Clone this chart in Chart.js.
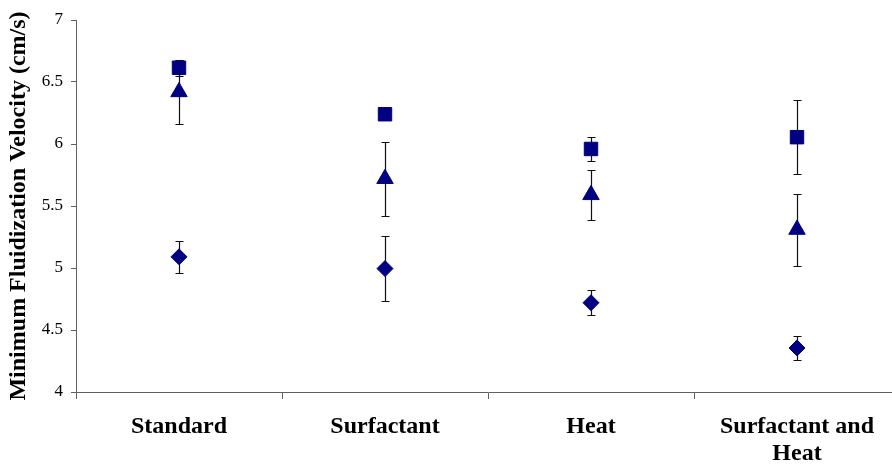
<!DOCTYPE html>
<html>
<head>
<meta charset="utf-8">
<script src="https://cdn.jsdelivr.net/npm/chart.js@4"></script>
<style>
  html, body { margin: 0; padding: 0; background: #fff; overflow: hidden; }
  #wrap { width: 900px; height: 465px; }
</style>
</head>
<body>
<div id="wrap"><canvas id="chart" width="900" height="465"></canvas></div>
<script>
// ── DATA ───────────────────────────────────────────────────────
const CATEGORIES = ['Standard', 'Surfactant', 'Heat', ['Surfactant and', 'Heat']];

const SQUARE_VALS   = [6.615, 6.24, 5.96, 6.055];
const SQUARE_ERR    = [0.065, 0.02, 0.10, 0.30];
const TRIANGLE_VALS = [6.42, 5.72, 5.59, 5.31];
const TRIANGLE_ERR  = [0.26, 0.30, 0.20, 0.29];
const DIAMOND_VALS  = [5.09, 4.995, 4.72, 4.355];
const DIAMOND_ERR   = [0.13, 0.26, 0.10, 0.095];

const Y_MIN = 4, Y_MAX = 7, Y_STEP = 0.5;
const Y_TITLE = 'Minimum Fluidization Velocity (cm/s)';

// ── STYLE ──────────────────────────────────────────────────────
const NAVY  = '#000080';
const AXIS  = '#606060';
const SERIF = "'Liberation Serif', 'Times New Roman', serif";

// error bars drawn behind the markers, through the y scale
const errorBars = {
  id: 'errorBars',
  beforeDatasetsDraw(chart) {
    const { ctx, scales: { y } } = chart;
    ctx.save();
    ctx.strokeStyle = '#101010';
    ctx.lineWidth = 1.2;
    chart.data.datasets.forEach((ds, di) => {
      const meta = chart.getDatasetMeta(di);
      meta.data.forEach((pt, i) => {
        const e = ds.errors[i];
        if (!e) return;
        const px = Math.round(pt.x) + 0.5;
        const top = Math.round(y.getPixelForValue(ds.data[i] + e)) + 0.5;
        const bot = Math.round(y.getPixelForValue(ds.data[i] - e)) + 0.5;
        ctx.beginPath();
        ctx.moveTo(px, top); ctx.lineTo(px, bot);
        ctx.moveTo(px - 4, top); ctx.lineTo(px + 4, top);
        ctx.moveTo(px - 4, bot); ctx.lineTo(px + 4, bot);
        ctx.stroke();
      });
    });
    ctx.restore();
  }
};

function series(label, data, errors, style, radius) {
  return {
    label, data, errors,
    showLine: false,
    pointStyle: style,
    pointRadius: radius,
    pointHoverRadius: radius,
    pointBackgroundColor: NAVY,
    pointBorderColor: NAVY,
    pointBorderWidth: 1,
  };
}

new Chart(document.getElementById('chart').getContext('2d'), {
  type: 'line',
  data: {
    labels: CATEGORIES,
    datasets: [
      series('Series 1', SQUARE_VALS, SQUARE_ERR, 'rect', 9.5),
      series('Series 2', TRIANGLE_VALS, TRIANGLE_ERR, 'triangle', 9.5),
      series('Series 3', DIAMOND_VALS, DIAMOND_ERR, 'rectRot', 8),
    ],
  },
  options: {
    responsive: false,
    animation: false,
    layout: { autoPadding: false, padding: { top: 20, right: 0, left: 0, bottom: 0 } },
    plugins: { legend: { display: false }, tooltip: { enabled: false } },
    scales: {
      x: {
        offset: true,
        afterFit: s => { s.height = 73; s.paddingLeft = 0; s.paddingRight = 0; },
        grid: { offset: true, drawOnChartArea: false, tickLength: 7, color: AXIS },
        border: { color: AXIS, width: 1 },
        ticks: {
          padding: 15,
          color: '#000',
          maxRotation: 0,
          autoSkip: false,
          font: { family: SERIF, size: 24, weight: 'bold', lineHeight: 1.1 },
        },
      },
      y: {
        min: Y_MIN, max: Y_MAX,
        afterFit: s => { s.width = 76; },
        grid: { drawOnChartArea: false, tickLength: 5, color: AXIS },
        border: { color: AXIS, width: 1 },
        ticks: {
          stepSize: Y_STEP,
          padding: 8,
          color: '#000',
          font: { family: SERIF, size: 17 },
          callback: v => String(Number(v)),
        },
        title: {
          display: true,
          text: Y_TITLE,
          color: '#000',
          padding: { top: 4, bottom: 4 },
          font: { family: SERIF, size: 24, weight: 'bold', lineHeight: 1.2 },
        },
      },
    },
  },
  plugins: [errorBars],
});
</script>
</body>
</html>
